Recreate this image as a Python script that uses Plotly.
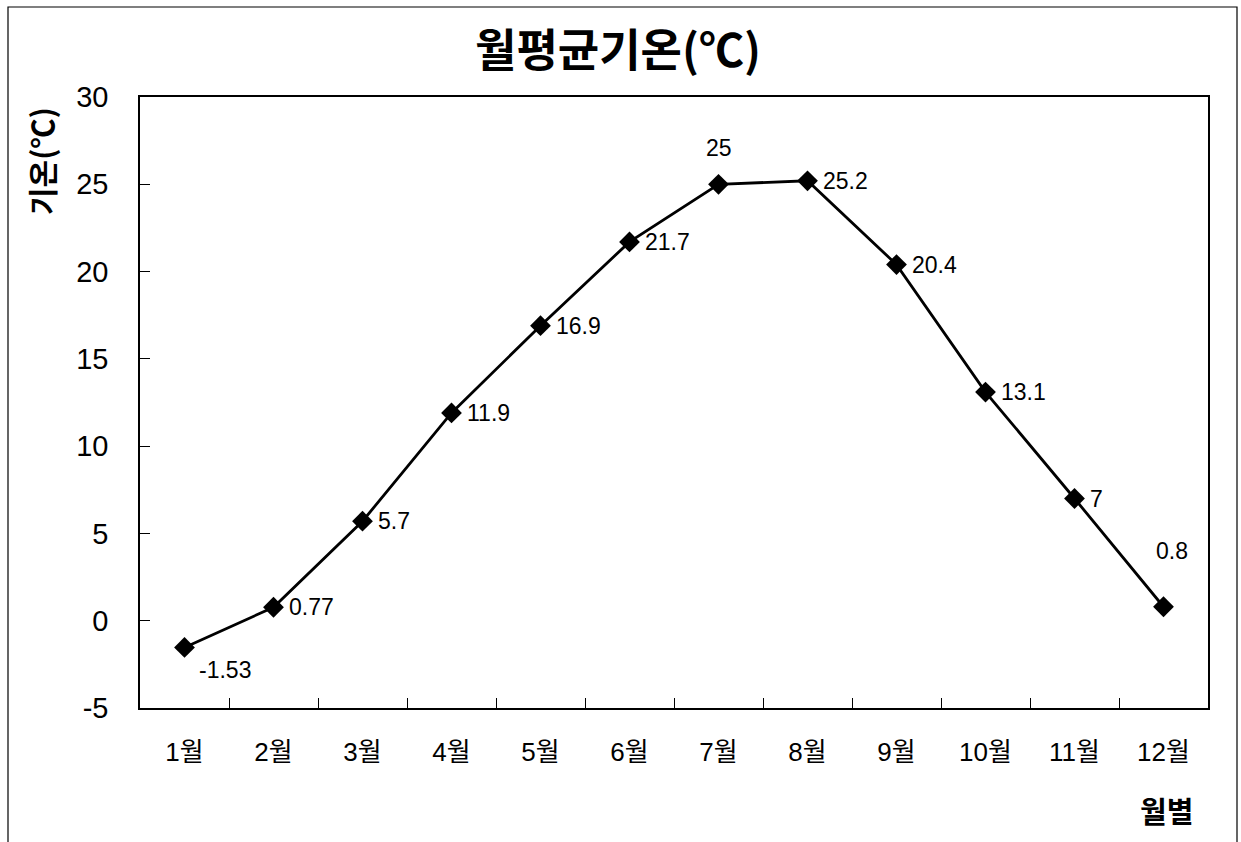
import plotly.graph_objects as go

months = ["1월", "2월", "3월", "4월", "5월", "6월", "7월", "8월", "9월", "10월", "11월", "12월"]
temps = [-1.53, 0.77, 5.7, 11.9, 16.9, 21.7, 25, 25.2, 20.4, 13.1, 7, 0.8]
labels = ["-1.53", "0.77", "5.7", "11.9", "16.9", "21.7", "25", "25.2", "20.4", "13.1", "7", "0.8"]
# label placement: (xanchor, xshift, yshift)
placements = [("left", 12, -23), ("left", 13, 0), ("left", 13, 0), ("left", 13, 0),
              ("left", 13, 0), ("left", 13, 0), ("center", 0, 36), ("left", 13, 0),
              ("left", 13, 0), ("left", 13, 0), ("left", 13, 0), ("center", 8, 56)]
y_ticks = [-5, 0, 5, 10, 15, 20, 25, 30]

font_main = "Liberation Sans, Noto Sans CJK KR, sans-serif"
font_kr = "Noto Sans CJK KR"

fig = go.Figure()
fig.add_trace(go.Scatter(
    x=months, y=temps, mode="lines+markers",
    line=dict(color="black", width=2.8),
    marker=dict(symbol="diamond", size=16, color="black"),
    showlegend=False, hoverinfo="skip",
))

annotations = []
for m, v, t, (xa, xs, ys) in zip(months, temps, labels, placements):
    annotations.append(dict(x=m, y=v, xref="x", yref="y", text=t, showarrow=False,
                            xanchor=xa, yanchor="middle", xshift=xs, yshift=ys,
                            font=dict(family=font_main, size=23, color="black")))

annotations.append(dict(text="기온(℃)", xref="paper", yref="paper",
                        x=(41 - 140) / 1068, y=(708 - 161) / 611, textangle=-90,
                        showarrow=False, xanchor="center", yanchor="middle",
                        font=dict(family=font_kr, size=30, color="black", weight=700)))
annotations.append(dict(text="월별", xref="paper", yref="paper",
                        x=(1166 - 140) / 1068, y=(708 - 810) / 611,
                        showarrow=False, xanchor="center", yanchor="middle",
                        font=dict(family=font_kr, size=29, color="black", weight=700)))

fig.update_layout(
    width=1241, height=842,
    margin=dict(l=140, r=33, t=97, b=134),
    paper_bgcolor="white", plot_bgcolor="white",
    title=dict(text="월평균기온(℃)", x=618 / 1241, xanchor="center",
               y=1 - 51 / 842, yanchor="middle", yref="container",
               font=dict(family=font_kr, size=45, color="black", weight=700)),
    annotations=annotations,
    shapes=[dict(type="rect", xref="paper", yref="paper",
                 x0=(8 - 140) / 1068, x1=(1237 - 140) / 1068,
                 y0=(708 - 860) / 611, y1=(708 - 7) / 611,
                 line=dict(color="black", width=1.2), fillcolor="rgba(0,0,0,0)")],
)

fig.update_xaxes(
    type="category", range=[-0.5, 11.5], tickson="boundaries", ticks="inside", ticklen=10,
    tickcolor="black", showline=True, linecolor="black", linewidth=1.5, mirror=True,
    showgrid=False, zeroline=False,
    tickfont=dict(family=font_main, size=26, color="black"),
    ticklabelstandoff=20,
)
fig.update_yaxes(
    range=[-5, 30], tickvals=y_ticks, ticktext=[str(v) for v in y_ticks],
    ticks="inside", ticklen=10, tickcolor="black",
    showline=True, linecolor="black", linewidth=1.5, mirror=True,
    showgrid=False, zeroline=False,
    tickfont=dict(family=font_main, size=29, color="black"),
    ticklabelstandoff=24,
)

fig.write_html("out.html")
